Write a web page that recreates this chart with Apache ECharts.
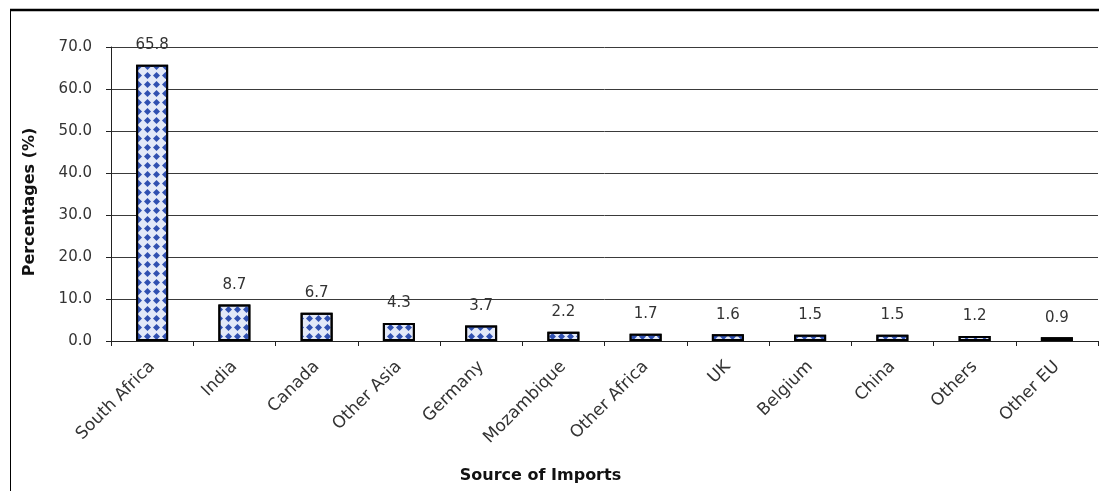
<!DOCTYPE html>
<html>
<head>
<meta charset="utf-8">
<script src="https://cdn.jsdelivr.net/npm/echarts@6/dist/echarts.min.js"></script>
<style>
html,body{margin:0;padding:0;background:#fff;}
#chart{width:1099px;height:491px;}
</style>
</head>
<body>
<div id="chart"></div>
<script>
const categories = ['South Africa','India','Canada','Other Asia','Germany','Mozambique','Other Africa','UK','Belgium','China','Others','Other EU'];
const values = [65.8, 8.7, 6.7, 4.3, 3.7, 2.2, 1.7, 1.6, 1.5, 1.5, 1.2, 0.9];
const yTicks = [0, 10, 20, 30, 40, 50, 60, 70];

const FONT = 'DejaVu Sans';
const chart = echarts.init(document.getElementById('chart'));
chart.setOption({
  animation: false,
  backgroundColor: '#fff',
  textStyle: { fontFamily: FONT },
  graphic: [
    { type: 'line', shape: { x1: 10, y1: 10, x2: 1099, y2: 10 }, style: { stroke: '#000', lineWidth: 2.5 } },
    { type: 'line', shape: { x1: 10.5, y1: 10, x2: 10.5, y2: 491 }, style: { stroke: '#000', lineWidth: 1 } }
  ],
  grid: { left: 111, right: 1, top: 47, bottom: 150, containLabel: false },
  xAxis: {
    type: 'category',
    data: categories,
    boundaryGap: true,
    name: 'Source of Imports',
    nameLocation: 'middle',
    nameGap: 127,
    nameTextStyle: { fontFamily: FONT, fontSize: 16, fontWeight: 'bold', color: '#111', padding: [0, 128, 0, 0] },
    axisLine: { show: true, lineStyle: { color: '#222', width: 1 } },
    axisTick: { show: true, length: 5, interval: 0, lineStyle: { color: '#222' } },
    axisLabel: { interval: 0, rotate: 45, margin: 23, fontFamily: FONT, fontSize: 17, color: '#333' },
    splitLine: { show: false }
  },
  yAxis: {
    type: 'value',
    min: yTicks[0],
    max: yTicks[yTicks.length - 1],
    interval: 10,
    name: 'Percentages (%)',
    nameLocation: 'middle',
    nameGap: 73,
    nameTextStyle: { fontFamily: FONT, fontSize: 16, fontWeight: 'bold', color: '#111', padding: [0, 16, 0, 0] },
    axisLine: { show: true, lineStyle: { color: '#222', width: 1 } },
    axisTick: { show: true, length: 5, inside: false, lineStyle: { color: '#222' } },
    axisLabel: { margin: 19, fontFamily: FONT, fontSize: 15, color: '#333', formatter: v => v.toFixed(1) },
    splitLine: { show: true, lineStyle: { color: '#3a3a3a', width: 1 } }
  },
  series: [{
    type: 'bar',
    data: values,
    barWidth: 32,
    itemStyle: {
      color: '#e3e9f8',
      borderColor: '#000',
      borderWidth: 2,
      decal: {
        symbol: 'diamond',
        symbolSize: 1,
        color: '#3050b0',
        dashArrayX: [7, 2],
        dashArrayY: [6.5, 2],
        rotation: 0
      }
    },
    label: {
      show: true,
      position: 'top',
      distance: 12,
      fontFamily: FONT,
      fontSize: 15,
      color: '#333',
      formatter: p => p.value.toFixed(1)
    }
  }]
});
</script>
</body>
</html>
